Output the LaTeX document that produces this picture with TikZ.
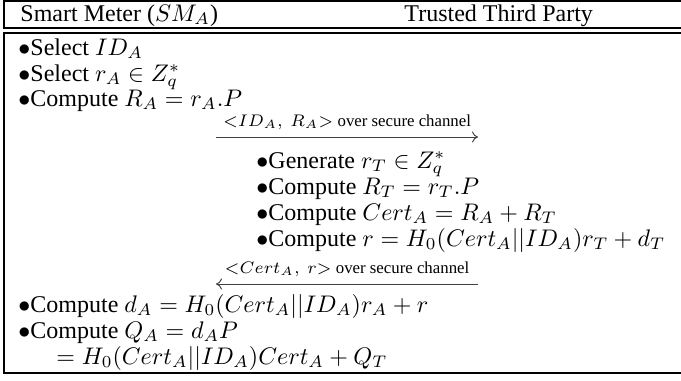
\documentclass[tikz,border=0pt]{standalone}
\usepackage{amsmath}
\usepackage[no-math]{fontspec}
\setmainfont{Liberation Serif}
\usetikzlibrary{arrows.meta}
\tikzset{
    frame line/.style={line width=0.85pt, line join=miter},
    head text/.style={anchor=base west, inner sep=0pt, font=\normalsize},
    step text/.style={anchor=base west, inner sep=0pt, font=\normalsize},
    msg arrow/.style={draw=black!75, line width=0.4pt, -{To[length=2.5pt, width=4.6pt]}},
    msg label/.style={anchor=base, inner sep=0pt, yshift=4.4pt, font=\scriptsize}
}
\newcommand{\stepdot}{$\bullet$}

\begin{document}
\begin{tikzpicture}[x=0.4167pt, y=-0.4167pt]
    \useasboundingbox (0,0) rectangle (681,380);

    % two framed boxes, open on the right
    \draw[frame line] (690,1) -- (4,1) -- (4,28) -- (690,28);
    \draw[frame line] (690,33) -- (4,33) -- (4,373) -- (690,373);

    \node[head text] (sm) at (20,21) {Smart Meter ($SM_A$)};
    \node[head text] (ttp) at (404,21) {Trusted Third Party};

    % smart meter side
    \node[step text] (selid) at (18,55) {\stepdot Select $ID_A$};
    \node[step text] (selr) at (18,81) {\stepdot Select $r_A \in Z_q^*$};
    \node[step text] (compra) at (18,106) {\stepdot Compute $R_A = r_A.P$};

    \coordinate (m1 start) at (216,137);
    \coordinate (m1 end) at (478,137);
    \draw[msg arrow] (m1 start) -- node[msg label] (m1 text) {${<}ID_A,\ R_A{>}$ over secure channel} (m1 end);

    % trusted third party side
    \node[step text] (genrt) at (256,168) {\stepdot Generate $r_T \in Z_q^*$};
    \node[step text] (comprt) at (256,194) {\stepdot Compute $R_T = r_T.P$};
    \node[step text] (compcert) at (256,220) {\stepdot Compute $Cert_A = R_A + R_T$};
    \node[step text] (compr) at (256,246) {\stepdot Compute $r = H_0(Cert_A||ID_A)r_T + d_T$};

    \coordinate (m2 start) at (478,284);
    \coordinate (m2 end) at (216,284);
    \draw[msg arrow] (m2 start) -- node[msg label] (m2 text) {${<}Cert_A,\ r{>}$ over secure channel} (m2 end);

    % smart meter side again
    \node[step text] (compda) at (18,312) {\stepdot Compute $d_A = H_0(Cert_A||ID_A)r_A + r$};
    \node[step text] (compqa) at (18,338) {\stepdot Compute $Q_A = d_AP$};
    \node[step text] (compqb) at (56,364) {$= H_0(Cert_A||ID_A)Cert_A + Q_T$};
\end{tikzpicture}
\end{document}
